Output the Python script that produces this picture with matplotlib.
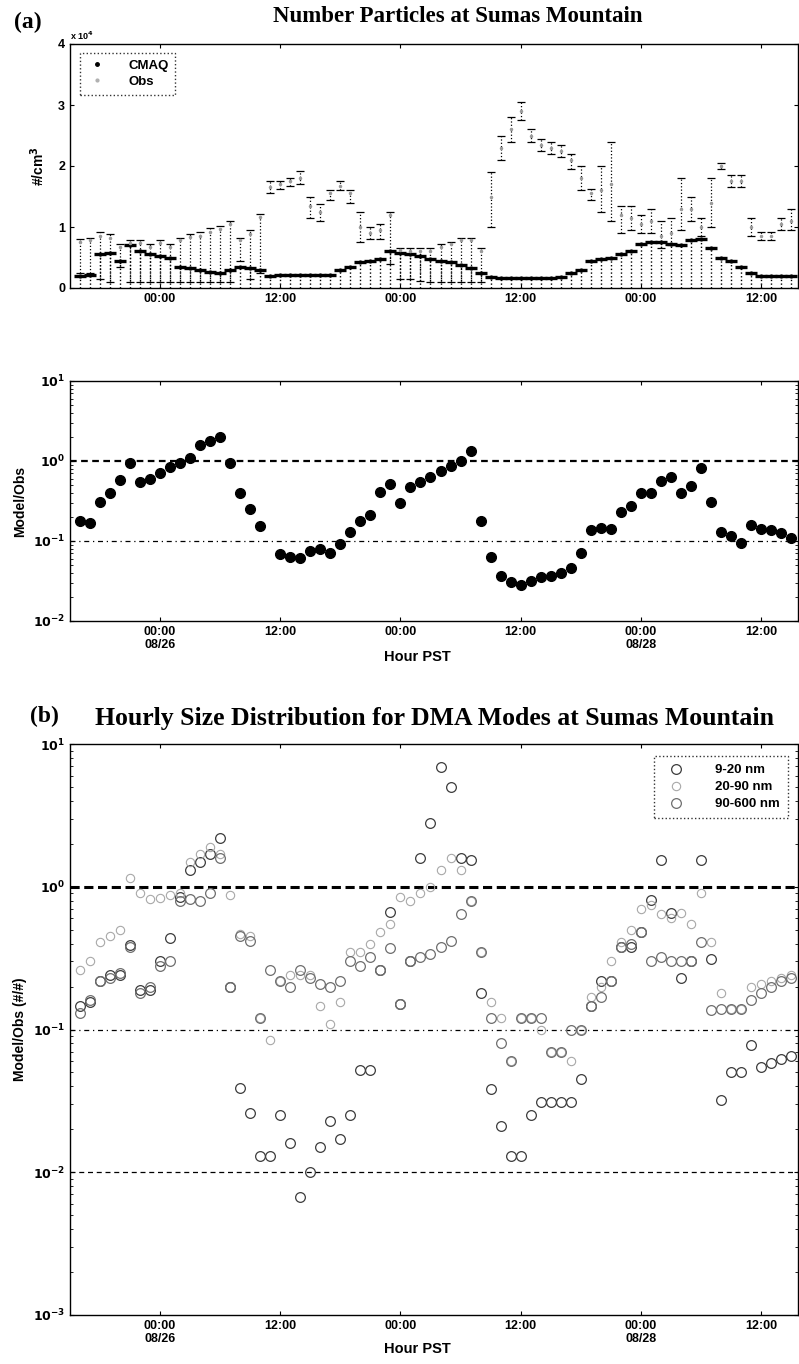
import numpy as np
import matplotlib
matplotlib.use("Agg")
import matplotlib.pyplot as plt
from matplotlib.lines import Line2D
from matplotlib.ticker import FixedLocator, LogLocator, FuncFormatter, NullFormatter

# hours relative to 00:00 08/26 (PST)
hours = list(range(-8, 64))

# panel (a): number concentration, units of 1e4 #/cm3
obs = [0.75, 0.78, 0.86, 0.82, 0.67, 0.74, 0.73, 0.67,
       0.73, 0.67, 0.78, 0.84, 0.86, 0.92, 0.97, 1.05, 0.78, 0.89, 1.16,
       1.65, 1.70, 1.75, 1.80, 1.35, 1.25, 1.55, 1.68, 1.55, 1.00, 0.90, 0.95, 1.20,
       0.62, 0.60, 0.60, 0.60, 0.67, 0.72, 0.78, 0.78, 0.60, 1.50, 2.30, 2.60,
       2.90, 2.50, 2.35, 2.30, 2.25, 2.10, 1.80, 1.55, 1.60, 1.70, 1.20, 1.15,
       1.05, 1.10, 0.85, 0.90, 1.30, 1.30, 1.00, 1.40, 2.00, 1.75, 1.75, 1.00,
       0.85, 0.85, 1.05, 1.10]
obs_lo = [0.25, 0.25, 0.15, 0.10, 0.35, 0.10, 0.10, 0.10,
          0.10, 0.10, 0.10, 0.10, 0.10, 0.10, 0.10, 0.10, 0.45, 0.15, 0.25,
          1.55, 1.62, 1.68, 1.70, 1.15, 1.10, 1.45, 1.60, 1.40, 0.75, 0.80, 0.80, 0.40,
          0.15, 0.15, 0.12, 0.10, 0.10, 0.10, 0.10, 0.10, 0.10, 1.00, 2.10, 2.40,
          2.75, 2.40, 2.25, 2.20, 2.15, 1.95, 1.60, 1.45, 1.25, 1.10, 0.90, 0.95,
          0.90, 0.90, 0.65, 0.70, 0.95, 1.10, 0.85, 1.00, 1.95, 1.65, 1.65, 0.85,
          0.78, 0.78, 0.95, 0.95]
obs_hi = [0.80, 0.82, 0.92, 0.88, 0.72, 0.78, 0.78, 0.72,
          0.78, 0.72, 0.82, 0.88, 0.92, 0.98, 1.02, 1.10, 0.82, 0.95, 1.22,
          1.75, 1.75, 1.80, 1.92, 1.50, 1.38, 1.60, 1.75, 1.60, 1.25, 1.00, 1.05, 1.25,
          0.66, 0.65, 0.65, 0.65, 0.72, 0.76, 0.82, 0.82, 0.65, 1.90, 2.50, 2.80,
          3.05, 2.60, 2.45, 2.40, 2.35, 2.20, 2.00, 1.62, 2.00, 2.40, 1.35, 1.35,
          1.20, 1.30, 1.10, 1.15, 1.80, 1.50, 1.15, 1.80, 2.05, 1.85, 1.85, 1.15,
          0.92, 0.92, 1.15, 1.30]
cmaq = [0.20, 0.22, 0.55, 0.57, 0.45, 0.70, 0.60, 0.55,
        0.53, 0.50, 0.35, 0.32, 0.30, 0.26, 0.25, 0.30, 0.35, 0.33, 0.30,
        0.20, 0.22, 0.22, 0.21, 0.21, 0.21, 0.22, 0.30, 0.35, 0.42, 0.45, 0.47, 0.60,
        0.58, 0.55, 0.52, 0.48, 0.45, 0.42, 0.38, 0.32, 0.25, 0.18, 0.17, 0.16,
        0.16, 0.16, 0.17, 0.17, 0.18, 0.25, 0.30, 0.45, 0.48, 0.50, 0.55, 0.60,
        0.72, 0.75, 0.75, 0.72, 0.70, 0.78, 0.80, 0.65, 0.50, 0.45, 0.35, 0.25,
        0.20, 0.20, 0.20, 0.20]

# model/obs ratio of total number
ratio = [0.18, 0.17, 0.31, 0.40, 0.58, 0.95, 0.55, 0.60,
         0.70, 0.84, 0.94, 1.08, 1.60, 1.80, 2.00, 0.94, 0.40, 0.25, 0.155,
         np.nan, 0.069, 0.063, 0.061, 0.075, 0.08, 0.07, 0.092, 0.13, 0.18, 0.21, 0.41, 0.52,
         0.30, 0.47, 0.55, 0.63, 0.75, 0.87, 1.0, 1.33, 0.18, 0.063, 0.037, 0.031,
         0.028, 0.032, 0.035, 0.037, 0.04, 0.046, 0.07, 0.137, 0.145, 0.14, 0.23, 0.27,
         0.40, 0.40, 0.56, 0.63, 0.40, 0.49, 0.82, 0.31, 0.13, 0.116, 0.095, 0.16,
         0.14, 0.137, 0.126, 0.11]

# panel (b): model/obs ratio per DMA mode
mode_names = ["9-20 nm", "20-90 nm", "90-600 nm"]
r_9_20 = [0.145, 0.157, 0.22, 0.24, 0.24, 0.39, 0.19, 0.19,
          0.30, 0.44, 0.85, 1.30, 1.50, 1.70, 2.20, 0.20, 0.039, 0.026, 0.013,
          0.013, 0.025, 0.016, 0.0067, 0.010, 0.015, 0.023, 0.017, 0.025, 0.052, 0.052, 0.26, 0.67,
          0.15, 0.30, 1.60, 2.80, 6.90, 5.00, 1.60, 1.55, 0.18, 0.038, 0.021, 0.013,
          0.013, 0.025, 0.031, 0.031, 0.031, 0.031, 0.045, 0.145, 0.22, 0.22, 0.38, 0.38,
          0.48, 0.81, 1.55, 0.66, 0.23, 0.30, 1.55, 0.31, 0.032, 0.050, 0.050, 0.078,
          0.055, 0.058, 0.062, 0.065]
r_20_90 = [0.26, 0.30, 0.41, 0.45, 0.50, 1.15, 0.90, 0.82,
           0.84, 0.88, 0.90, 1.50, 1.70, 1.90, 1.70, 0.88, 0.47, 0.45, 0.12,
           0.085, 0.22, 0.24, 0.24, 0.24, 0.145, 0.11, 0.155, 0.35, 0.35, 0.40, 0.48, 0.55,
           0.85, 0.80, 0.90, 1.00, 1.30, 1.60, 1.30, 0.80, 0.35, 0.157, 0.12, 0.06,
           0.12, 0.12, 0.10, 0.07, 0.07, 0.06, 0.10, 0.17, 0.20, 0.30, 0.41, 0.50,
           0.70, 0.75, 0.64, 0.60, 0.66, 0.55, 0.90, 0.41, 0.18, 0.14, 0.14, 0.20,
           0.21, 0.22, 0.23, 0.24]
r_90_600 = [0.13, 0.16, 0.22, 0.23, 0.25, 0.38, 0.18, 0.20,
            0.28, 0.30, 0.80, 0.82, 0.80, 0.90, 1.60, 0.20, 0.45, 0.42, 0.12,
            0.26, 0.22, 0.20, 0.26, 0.23, 0.21, 0.20, 0.22, 0.30, 0.28, 0.32, 0.26, 0.37,
            0.15, 0.30, 0.32, 0.34, 0.38, 0.42, 0.64, 0.80, 0.35, 0.12, 0.08, 0.06,
            0.12, 0.12, 0.12, 0.07, 0.07, 0.10, 0.10, 0.145, 0.17, 0.22, 0.38, 0.40,
            0.48, 0.30, 0.32, 0.30, 0.30, 0.30, 0.41, 0.138, 0.14, 0.14, 0.14, 0.16,
            0.18, 0.20, 0.22, 0.23]

tick_hours = [0, 12, 24, 36, 48, 60]
tick_top = ["00:00", "12:00", "00:00", "12:00", "00:00", "12:00"]
tick_bottom = ["00:00\n08/26", "12:00", "00:00", "12:00", "00:00\n08/28", "12:00"]

SANS = "Liberation Sans"
SERIF = "Liberation Serif"
plt.rcParams["font.family"] = SANS
plt.rcParams["font.weight"] = "bold"
plt.rcParams["mathtext.default"] = "bf"

W, H = 799, 1364
fig = plt.figure(figsize=(W / 100, H / 100), dpi=100)


def px_axes(left, top, right, bottom):
    return fig.add_axes([left / W, 1 - bottom / H, (right - left) / W, (bottom - top) / H])


def style_frame(ax):
    for s in ax.spines.values():
        s.set_linestyle((0, (3, 1, 1, 1)))
        s.set_linewidth(1.0)
    ax.tick_params(direction="in", top=True, right=True, length=3, width=0.8,
                   labelsize=9)
    ax.tick_params(which="minor", direction="in", top=False, right=True, length=2)
    ax.set_xlim(-9, 63.7)
    ax.xaxis.set_major_locator(FixedLocator(tick_hours))
    for lab in ax.get_yticklabels() + ax.get_xticklabels():
        lab.set_fontweight("bold")


def log_fmt(v, pos):
    return r"$10^{%d}$" % int(round(np.log10(v)))


def dotted_legend(ax, handles, labels, **kw):
    leg = ax.legend(handles, labels, frameon=True, fancybox=False, edgecolor="k", **kw)
    leg.get_frame().set_linestyle(":")
    leg.get_frame().set_linewidth(1.0)
    for t in leg.get_texts():
        t.set_fontweight("bold")
    return leg


# ---- panel (a) top: concentrations
ax1 = px_axes(70, 44, 798, 288)
ax1.vlines(hours, 0, cmaq, colors="k", linestyles=":", linewidth=1.0)
eb = ax1.errorbar(hours, obs,
                  yerr=[np.array(obs) - np.array(obs_lo), np.array(obs_hi) - np.array(obs)],
                  fmt=".", color="#9a9a9a", ms=3, ecolor="k", elinewidth=0.9,
                  capsize=3, capthick=0.9)
eb[2][0].set_linestyle(":")
ax1.plot(hours, cmaq, ls="none", marker="_", ms=8, mew=2.4, color="k")
ax1.plot(hours, cmaq, ls="none", marker=".", ms=4, color="k")
ax1.set_ylim(0, 4)
ax1.set_yticks([0, 1, 2, 3, 4])
ax1.set_xticklabels(tick_top)
style_frame(ax1)
ax1.set_ylabel("#/cm$^3$", fontsize=10, fontweight="bold", labelpad=8)
ax1.text(0.0, 1.015, r"x 10$^4$", transform=ax1.transAxes, fontsize=6.5)
h_cmaq = Line2D([], [], ls="none", marker=".", ms=5, color="k")
h_obs = Line2D([], [], ls="none", marker=".", ms=4, color="#b0b0b0")
dotted_legend(ax1, [h_cmaq, h_obs], ["CMAQ", "Obs"], loc="upper left", fontsize=9.5,
              borderpad=0.5, handletextpad=1.6, handlelength=1.6, labelspacing=0.3,
              bbox_to_anchor=(0.004, 0.99))

# ---- panel (a) bottom: model/obs ratio
ax2 = px_axes(70, 381, 798, 621)
ax2.axhline(1, color="k", ls=(0, (3, 2)), lw=1.6)
ax2.axhline(0.1, color="k", ls=(0, (4, 3, 1, 3)), lw=0.9)
ax2.plot(hours, ratio, ls="none", marker="o", ms=7, color="k")
ax2.set_yscale("log")
ax2.set_ylim(1e-2, 1e1)
ax2.yaxis.set_major_locator(LogLocator(base=10, numticks=10))
ax2.yaxis.set_minor_locator(LogLocator(base=10, subs=np.arange(2, 10), numticks=20))
ax2.yaxis.set_major_formatter(FuncFormatter(log_fmt))
ax2.yaxis.set_minor_formatter(NullFormatter())
ax2.set_xticklabels(tick_bottom, linespacing=1.15)
style_frame(ax2)
ax2.set_ylabel("Model/Obs", fontsize=10, fontweight="bold", labelpad=4)
fig.text(417 / W, 1 - 657 / H, "Hour PST", ha="center", va="center", fontsize=10.5,
         fontweight="bold")

# ---- panel (b): model/obs per mode
ax3 = px_axes(70, 744, 798, 1315)
ax3.axhline(1, color="k", ls=(0, (3, 1.5)), lw=2.2)
ax3.axhline(0.1, color="k", ls=(0, (4, 3, 1, 3)), lw=0.9)
ax3.axhline(0.01, color="k", ls=(0, (4, 3)), lw=0.9)
ax3.plot(hours, r_9_20, ls="none", marker="o", ms=7, mfc="none", mec="#3c3c3c",
         mew=0.9, label=mode_names[0])
ax3.plot(hours, r_20_90, ls="none", marker="o", ms=6, mfc="none", mec="#a8a8a8",
         mew=0.8, label=mode_names[1])
ax3.plot(hours, r_90_600, ls="none", marker="o", ms=7, mfc="none", mec="#6e6e6e",
         mew=0.9, label=mode_names[2])
ax3.set_yscale("log")
ax3.set_ylim(1e-3, 1e1)
ax3.yaxis.set_major_locator(LogLocator(base=10, numticks=10))
ax3.yaxis.set_minor_locator(LogLocator(base=10, subs=np.arange(2, 10), numticks=20))
ax3.yaxis.set_major_formatter(FuncFormatter(log_fmt))
ax3.yaxis.set_minor_formatter(NullFormatter())
ax3.set_xticklabels(tick_bottom, linespacing=1.15)
style_frame(ax3)
ax3.set_ylabel("Model/Obs (#/#)", fontsize=10, fontweight="bold", labelpad=4)
fig.text(417 / W, 1 - 1349 / H, "Hour PST", ha="center", va="center", fontsize=10.5,
         fontweight="bold")
h3, l3 = ax3.get_legend_handles_labels()
dotted_legend(ax3, h3, l3, loc="upper right", fontsize=9.5, borderpad=0.6,
              handletextpad=2.0, handlelength=2.0, labelspacing=0.35,
              bbox_to_anchor=(0.995, 0.99))

# ---- titles
fig.text(14 / W, 1 - 22 / H, "(a)", fontsize=17, fontweight="bold", family=SERIF,
         va="center", ha="left")
fig.text(458 / W, 1 - 16 / H, "Number Particles at Sumas Mountain", fontsize=16.5,
         fontweight="bold", family=SERIF, ha="center", va="center")
fig.text(30 / W, 1 - 716 / H, "(b)", fontsize=17, fontweight="bold", family=SERIF,
         va="center", ha="left")
fig.text(95 / W, 1 - 718 / H, "Hourly Size Distribution for DMA Modes at Sumas Mountain",
         fontsize=18.5, fontweight="bold", family=SERIF, ha="left", va="center")

fig.savefig("out.png", dpi=100)
